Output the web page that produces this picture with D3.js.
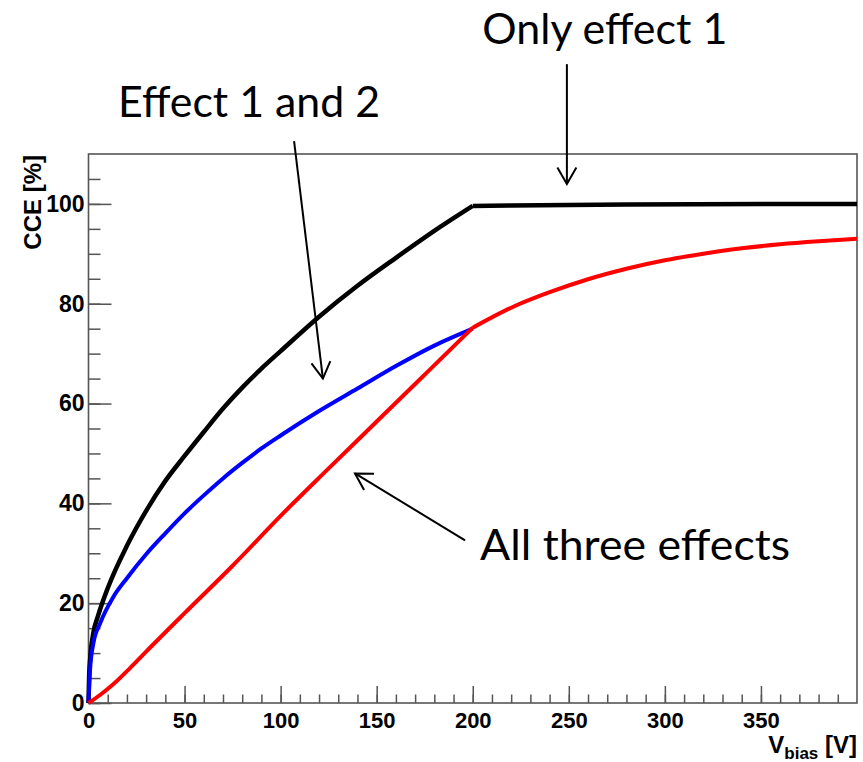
<!DOCTYPE html>
<html>
<head>
<meta charset="utf-8">
<script src="https://cdn.jsdelivr.net/npm/d3@7"></script>
<style>
  body { margin: 0; background: #fff; }
  svg { display: block; }
  .tick text { font-family: "Liberation Sans", Arial, sans-serif; font-weight: bold; }
</style>
</head>
<body>
<script>
// Valeurs : [V_bias (V), CCE (%)]
const onlyEffect1 = [
  [0, 0], [0.3, 5], [1, 9.5], [2.5, 14], [5, 17.5], [10, 23], [20, 31.5],
  [30, 38.5], [40, 44.5], [50, 49.5], [60, 54.3], [70, 59], [80, 63.2],
  [90, 67], [100, 70.5], [120, 77.4], [140, 83.6], [160, 89.2], [180, 94.6],
  [200, 99.6], [220, 99.7], [280, 99.9], [400, 100]
];
const effect1and2 = [
  [0, 0], [0.2, 2], [0.8, 6.6], [2.5, 11.9], [6, 15.9], [13, 21.3], [20, 25],
  [30, 29.8], [40, 34], [50, 38], [60, 41.6], [70, 45], [80, 48.1], [90, 51],
  [100, 53.6], [120, 58.5], [140, 63], [160, 67.5], [180, 71.6], [200, 75]
];
const allThree = [
  [0, 0], [6, 1.6], [13, 3.8], [21.6, 7], [30, 10.3], [50, 18], [75, 27.5],
  [100, 37.5], [125, 47], [150, 56.4], [175, 65.8], [200, 75.2],
  [220, 79.2], [240, 82.3], [260, 84.9], [280, 87], [300, 88.7], [320, 90],
  [340, 91.1], [360, 91.9], [380, 92.5], [400, 93]
];
const kneeV = 200; // déplétion totale : cassure des courbes
const xTicks = [0, 50, 100, 150, 200, 250, 300, 350];
const yTicks = [0, 20, 40, 60, 80, 100];

// Annotations (en coordonnées des données)
const labels = ["Only effect 1", "Effect 1 and 2", "All three effects"];
const labelAt = [[205, 132], [15.4, 117.4], [203.8, 28.6]];
const labelWidth = [245, 262, 310];
const arrowFrom = [[249, 128], [107, 112.6], [196, 32.6]];
const arrowTo = [[249, 104], [122, 65], [138.7, 46]];

const W = 863, H = 762;
const margin = {top: 154, right: 6, bottom: 59, left: 88.5};
const width = W - margin.left - margin.right,
      height = H - margin.top - margin.bottom;

const svg = d3.select("body").append("svg")
    .attr("width", W)
    .attr("height", H);

svg.append("rect").attr("width", W).attr("height", H).attr("fill", "#fff");

const g = svg.append("g")
    .attr("transform", "translate(" + margin.left + "," + margin.top + ")");

const x = d3.scaleLinear().domain([0, 400]).range([0, width]);
const y = d3.scaleLinear().domain([0, 110]).range([height, 0]);

const axisColor = "#555";

// petites graduations
g.append("g")
    .attr("transform", "translate(0," + height + ")")
    .call(d3.axisBottom(x).tickValues(d3.range(0, 400, 10)).tickSizeInner(-8.5).tickSizeOuter(0).tickFormat(""))
    .call(a => a.select(".domain").remove());
g.append("g")
    .call(d3.axisLeft(y).tickValues(d3.range(0, 110, 5)).tickSizeInner(-12).tickSizeOuter(0).tickFormat(""))
    .call(a => a.select(".domain").remove());

// grandes graduations
g.append("g")
    .attr("transform", "translate(0," + height + ")")
    .call(d3.axisBottom(x).tickValues(xTicks).tickSizeInner(-17).tickSizeOuter(0).tickPadding(9))
    .call(a => a.select(".domain").remove())
    .selectAll("text").attr("font-size", 22).attr("fill", "#000");
g.append("g")
    .call(d3.axisLeft(y).tickValues(yTicks).tickSizeInner(-23).tickSizeOuter(0).tickPadding(4))
    .call(a => a.select(".domain").remove())
    .selectAll("text").attr("font-size", 23).attr("fill", "#000");

g.selectAll(".tick line").attr("stroke", axisColor).attr("stroke-width", 1.5);

// cadre
g.append("rect")
    .attr("width", width).attr("height", height)
    .attr("fill", "none").attr("stroke", axisColor).attr("stroke-width", 1.6);

// courbes (lissées de part et d'autre de la cassure)
const line = d3.line()
    .x(d => x(d[0]))
    .y(d => y(d[1]))
    .curve(d3.curveMonotoneX);
const pathOf = data => {
  const a = data.filter(d => d[0] <= kneeV), b = data.filter(d => d[0] >= kneeV);
  return line(a) + (b.length > 1 ? line(b) : "");
};

const series = [
  {data: onlyEffect1, color: "#000", w: 4.5},
  {data: effect1and2, color: "#0000ff", w: 4},
  {data: allThree, color: "#ff0000", w: 4}
];
g.selectAll(".curve")
  .data(series)
  .join("path")
    .attr("class", "curve")
    .attr("d", d => pathOf(d.data))
    .attr("fill", "none")
    .attr("stroke", d => d.color)
    .attr("stroke-width", d => d.w)
    .attr("stroke-linejoin", "round");

// titres des axes
svg.append("text")
    .attr("transform", "translate(" + 41 + "," + (margin.top + 1) + ") rotate(-90)")
    .attr("text-anchor", "end")
    .attr("font-family", "Liberation Sans, Arial, sans-serif")
    .attr("font-weight", "bold")
    .attr("font-size", 24)
    .text("CCE [%]");

const xt = svg.append("text")
    .attr("x", W - 6)
    .attr("y", 753)
    .attr("text-anchor", "end")
    .attr("font-family", "Liberation Sans, Arial, sans-serif")
    .attr("font-weight", "bold")
    .attr("font-size", 24);
xt.append("tspan").text("V");
xt.append("tspan").attr("font-size", 17).attr("dy", 6).text("bias");
xt.append("tspan").attr("dy", -6).text(" [V]");

// annotations
const ann = svg.append("g").attr("transform", "translate(" + margin.left + "," + margin.top + ")");
ann.selectAll("text")
  .data(labels)
  .join("text")
    .attr("x", (d, i) => x(labelAt[i][0]))
    .attr("y", (d, i) => y(labelAt[i][1]))
    .attr("font-family", "Lato, 'Open Sans', sans-serif")
    .attr("font-size", 42)
    .attr("textLength", (d, i) => labelWidth[i])
    .attr("lengthAdjust", "spacingAndGlyphs")
    .text(d => d);

arrowFrom.forEach((f, i) => {
  const x0 = x(f[0]), y0 = y(f[1]);
  const x1 = x(arrowTo[i][0]), y1 = y(arrowTo[i][1]);
  const ang = Math.atan2(y1 - y0, x1 - x0);
  const len = 19, spread = Math.PI / 6;
  const p1 = [x1 - len * Math.cos(ang - spread), y1 - len * Math.sin(ang - spread)];
  const p2 = [x1 - len * Math.cos(ang + spread), y1 - len * Math.sin(ang + spread)];
  ann.append("line")
      .attr("x1", x0).attr("y1", y0).attr("x2", x1).attr("y2", y1)
      .attr("stroke", "#000").attr("stroke-width", 2);
  ann.append("path")
      .attr("d", "M" + p1 + "L" + x1 + "," + y1 + "L" + p2)
      .attr("fill", "none").attr("stroke", "#000").attr("stroke-width", 2);
});
</script>
</body>
</html>
